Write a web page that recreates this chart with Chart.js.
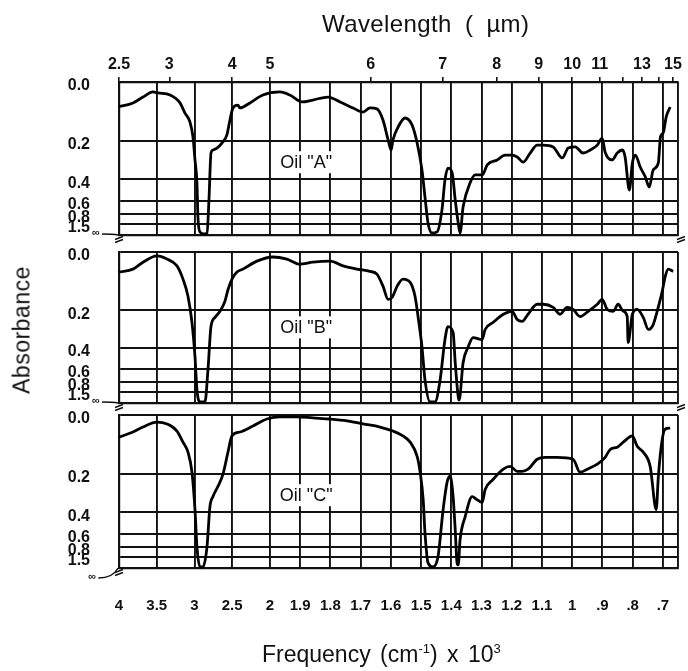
<!DOCTYPE html>
<html>
<head>
<meta charset="utf-8">
<title>Infrared absorbance of three oils</title>
<script src="https://cdn.jsdelivr.net/npm/chart.js@4.4.1/dist/chart.umd.min.js"></script>
<style>
  html, body { margin: 0; padding: 0; background: #fff; }
  #page { position: relative; width: 688px; height: 671px; overflow: hidden;
          font-family: "Liberation Sans", Arial, sans-serif; color: #111; }
  #page canvas { position: absolute; left: 0; }
  .caption { position: absolute; white-space: nowrap; font-size: 23px; line-height: 23px; }
  .caption sup { font-size: 13px; vertical-align: 9px; line-height: 0; }
</style>
</head>
<body>
<div id="page">
  <canvas id="panelA" width="688" height="248" style="top:0px"></canvas>
  <canvas id="panelB" width="688" height="175" style="top:240px"></canvas>
  <canvas id="panelC" width="688" height="266" style="top:405px"></canvas>
  <div class="caption" style="left:322px; top:12px; font-size:24px; word-spacing:6px; letter-spacing:0.4px;">Wavelength ( µm)</div>
  <div class="caption" style="left:22px; top:330px; transform:translate(-50%,-50%) rotate(-90deg); letter-spacing:0.5px;">Absorbance</div>
  <div class="caption" style="left:262px; top:643px; word-spacing:3px;">Frequency (cm<sup>-1</sup>) x 10<sup>3</sup></div>
</div>
<script>
// ---------------------------------------------------------------------------
// Spectra: frequency (cm-1) and absorbance for each oil
// ---------------------------------------------------------------------------
const FREQ_A = [4000, 3815, 3682, 3550, 3483, 3325, 3192, 3126, 3060, 3020,
  2993, 2967, 2954, 2927, 2874, 2834, 2808, 2781, 2755, 2702,
  2636, 2570, 2530, 2490, 2424, 2397, 2265, 2093, 1967, 1934,
  1894, 1858, 1808, 1768, 1725, 1692, 1669, 1646, 1626, 1609,
  1599, 1593, 1576, 1553, 1530, 1513, 1497, 1487, 1477, 1464,
  1447, 1431, 1421, 1411, 1397, 1387, 1377, 1371, 1361, 1338,
  1321, 1298, 1281, 1248, 1222, 1199, 1182, 1162, 1139, 1116,
  1096, 1063, 1033, 1013, 990, 964, 940, 917, 901, 891,
  868, 851, 834, 825, 811, 801, 791, 775, 758, 745,
  732, 715, 708, 699, 689, 676];
const ABS_A = [0.073, 0.061, 0.043, 0.028, 0.031, 0.037, 0.061, 0.094, 0.125, 0.183,
  0.288, 0.430, 0.936, 2.06, 2.5, 2.25, 0.593, 0.254, 0.240, 0.231,
  0.209, 0.175, 0.118, 0.077, 0.068, 0.077, 0.061, 0.037, 0.028, 0.037,
  0.058, 0.052, 0.043, 0.058, 0.077, 0.091, 0.077, 0.080, 0.118, 0.196,
  0.240, 0.196, 0.144, 0.111, 0.136, 0.209, 0.343, 0.561, 1.39, 2.25,
  2.06, 0.737, 0.407, 0.332, 0.361, 0.593, 1.39, 2.25, 0.688, 0.430,
  0.373, 0.373, 0.314, 0.288, 0.264, 0.264, 0.273, 0.299, 0.254, 0.218,
  0.218, 0.226, 0.278, 0.231, 0.226, 0.254, 0.240, 0.218, 0.188, 0.250,
  0.288, 0.254, 0.240, 0.273, 0.491, 0.304, 0.264, 0.326, 0.386, 0.463,
  0.343, 0.304, 0.183, 0.167, 0.107, 0.074];

const FREQ_B = [4000, 3815, 3682, 3497, 3364, 3232, 3152, 3086, 3033, 2993,
  2967, 2927, 2861, 2821, 2781, 2728, 2662, 2596, 2556, 2503,
  2437, 2358, 2172, 1990, 1944, 1901, 1858, 1801, 1758, 1712,
  1669, 1646, 1626, 1609, 1596, 1579, 1560, 1536, 1520, 1510,
  1497, 1487, 1470, 1454, 1437, 1421, 1411, 1394, 1387, 1377,
  1374, 1361, 1344, 1328, 1298, 1288, 1262, 1228, 1199, 1182,
  1166, 1146, 1116, 1096, 1063, 1040, 1017, 997, 974, 947,
  917, 901, 884, 864, 848, 831, 818, 815, 801, 785,
  765, 748, 732, 719, 702, 692, 682, 666];
const ABS_B = [0.059, 0.050, 0.029, 0.011, 0.020, 0.040, 0.082, 0.143, 0.256, 0.472,
  1.24, 2.5, 2.5, 0.609, 0.276, 0.232, 0.205, 0.163, 0.119, 0.082,
  0.059, 0.050, 0.026, 0.014, 0.020, 0.035, 0.029, 0.026, 0.040, 0.050,
  0.057, 0.066, 0.106, 0.155, 0.148, 0.106, 0.082, 0.093, 0.143, 0.228,
  0.393, 0.764, 2.5, 2.5, 0.764, 0.348, 0.276, 0.307, 0.530, 1.76,
  2.06, 0.530, 0.393, 0.336, 0.348, 0.291, 0.256, 0.218, 0.205, 0.242,
  0.251, 0.218, 0.175, 0.175, 0.188, 0.218, 0.188, 0.197, 0.228, 0.205,
  0.175, 0.155, 0.197, 0.205, 0.175, 0.205, 0.228, 0.366, 0.218, 0.197,
  0.232, 0.291, 0.266, 0.205, 0.124, 0.072, 0.050, 0.057];

const FREQ_C = [4000, 3815, 3682, 3497, 3364, 3232, 3152, 3086, 3033, 2993,
  2967, 2927, 2887, 2834, 2795, 2755, 2689, 2623, 2556, 2503,
  2397, 2225, 2040, 1967, 1911, 1858, 1801, 1745, 1692, 1636,
  1593, 1560, 1536, 1513, 1503, 1493, 1487, 1477, 1460, 1444,
  1427, 1414, 1404, 1394, 1387, 1381, 1377, 1371, 1354, 1331,
  1315, 1298, 1288, 1262, 1228, 1205, 1182, 1166, 1146, 1116,
  1089, 1050, 997, 974, 950, 917, 891, 874, 851, 831,
  801, 785, 765, 742, 722, 715, 702, 692, 676];
const ABS_C = [0.065, 0.049, 0.034, 0.020, 0.025, 0.046, 0.081, 0.115, 0.193, 0.383,
  0.81, 2.5, 2.5, 0.81, 0.365, 0.307, 0.256, 0.202, 0.115, 0.061,
  0.049, 0.031, 0.011, 0.005, 0.005, 0.008, 0.011, 0.016, 0.025, 0.034,
  0.046, 0.061, 0.081, 0.130, 0.193, 0.324, 0.592, 1.84, 2.5, 1.5,
  0.383, 0.237, 0.210, 0.307, 0.557, 1.84, 2.06, 0.686, 0.434, 0.307,
  0.324, 0.340, 0.271, 0.224, 0.180, 0.169, 0.189, 0.189, 0.180, 0.141,
  0.134, 0.134, 0.141, 0.193, 0.180, 0.160, 0.134, 0.105, 0.098, 0.081,
  0.061, 0.095, 0.115, 0.169, 0.383, 0.210, 0.071, 0.040, 0.037];

const OIL_NAMES = ['Oil "A"', 'Oil "B"', 'Oil "C"'];
const OIL_LABEL_FREQ = [1880, 1880, 1880];
const OIL_LABEL_ABS = [0.30, 0.28, 0.30];

// Tick values and their printed labels
const FREQ_TICKS = [4000, 3500, 3000, 2500, 2000, 1900, 1800, 1700, 1600, 1500,
  1400, 1300, 1200, 1100, 1000, 900, 800, 700, 650];
const FREQ_TICK_LABELS = ['4', '3.5', '3', '2.5', '2', '1.9', '1.8', '1.7', '1.6', '1.5',
  '1.4', '1.3', '1.2', '1.1', '1', '.9', '.8', '.7', ''];
const WAVE_TICKS = [2.5, 3, 4, 5, 6, 7, 8, 9, 10, 11, 12, 13, 14, 15];
const WAVE_TICK_LABELS = ['2.5', '3', '4', '5', '6', '7', '8', '9', '10', '11', '', '13', '', '15'];
const ABS_TICKS = [0, 0.2, 0.4, 0.6, 0.8, 1.5];
const ABS_TICK_LABELS = ['0.0', '0.2', '0.4', '0.6', '0.8', '1.5'];

// ---------------------------------------------------------------------------
// Chart-paper axes
// ---------------------------------------------------------------------------
// Frequency axis: 4000-2000 cm-1 is printed at a compressed scale.
const FREQ_KNOTS = [4000, 2000, 650];
const FREQ_KNOT_POS = [0, 0.27, 1];
// Absorbance axis: depth of each printed line below 0.0 (last entry = infinite absorbance).
const PAPER_DEPTH = [0, 0.385, 0.635, 0.775, 0.86, 0.927, 1];

function freqToDecimal(f) {
  if (f >= FREQ_KNOTS[1]) {
    return FREQ_KNOT_POS[0] + (FREQ_KNOTS[0] - f) / (FREQ_KNOTS[0] - FREQ_KNOTS[1]) * (FREQ_KNOT_POS[1] - FREQ_KNOT_POS[0]);
  }
  return FREQ_KNOT_POS[1] + (FREQ_KNOTS[1] - f) / (FREQ_KNOTS[1] - FREQ_KNOTS[2]) * (FREQ_KNOT_POS[2] - FREQ_KNOT_POS[1]);
}
function decimalToFreq(d) {
  if (d <= FREQ_KNOT_POS[1]) {
    return FREQ_KNOTS[0] - (d - FREQ_KNOT_POS[0]) / (FREQ_KNOT_POS[1] - FREQ_KNOT_POS[0]) * (FREQ_KNOTS[0] - FREQ_KNOTS[1]);
  }
  return FREQ_KNOTS[1] - (d - FREQ_KNOT_POS[1]) / (FREQ_KNOT_POS[2] - FREQ_KNOT_POS[1]) * (FREQ_KNOTS[1] - FREQ_KNOTS[2]);
}
// The paper is ruled linearly in transmittance between its printed absorbance lines.
const TRANS_KNOTS = ABS_TICKS.map(a => Math.pow(10, -a)).concat(0);
function absorbanceToDepth(a) {
  const t = Math.pow(10, -a);
  for (let i = 0; i < TRANS_KNOTS.length - 1; i++) {
    if (t >= TRANS_KNOTS[i + 1]) {
      return PAPER_DEPTH[i] + (TRANS_KNOTS[i] - t) / (TRANS_KNOTS[i] - TRANS_KNOTS[i + 1]) * (PAPER_DEPTH[i + 1] - PAPER_DEPTH[i]);
    }
  }
  return 1;
}
function depthToAbsorbance(d) {
  for (let i = 0; i < PAPER_DEPTH.length - 1; i++) {
    if (d <= PAPER_DEPTH[i + 1]) {
      const t = TRANS_KNOTS[i] - (d - PAPER_DEPTH[i]) / (PAPER_DEPTH[i + 1] - PAPER_DEPTH[i]) * (TRANS_KNOTS[i] - TRANS_KNOTS[i + 1]);
      return t > 0 ? -Math.log10(t) : Infinity;
    }
  }
  return Infinity;
}

class FrequencyScale extends Chart.Scale {
  determineDataLimits() { this.min = FREQ_KNOTS[2]; this.max = FREQ_KNOTS[0]; }
  buildTicks() { return FREQ_TICKS.map(value => ({ value })); }
  getLabelForValue(v) { return String(v); }
  getPixelForValue(f) { return this.getPixelForDecimal(freqToDecimal(f)); }
  getValueForPixel(p) { return decimalToFreq(this.getDecimalForPixel(p)); }
}
FrequencyScale.id = 'frequency';
FrequencyScale.defaults = {};

class WavelengthScale extends FrequencyScale {
  determineDataLimits() { this.min = 1e4 / FREQ_KNOTS[0]; this.max = 1e4 / FREQ_KNOTS[2]; }
  buildTicks() { return WAVE_TICKS.map(value => ({ value })); }
  getPixelForValue(um) { return super.getPixelForValue(1e4 / um); }
  getValueForPixel(p) { return 1e4 / super.getValueForPixel(p); }
}
WavelengthScale.id = 'wavelength';
WavelengthScale.defaults = {};

class AbsorbanceScale extends Chart.Scale {
  determineDataLimits() { this.min = 0; this.max = 3; }
  buildTicks() { return ABS_TICKS.map(value => ({ value })); }
  getLabelForValue(v) { return v.toFixed(2); }
  getPixelForValue(a) { return this.getPixelForDecimal(1 - absorbanceToDepth(a)); }
  getValueForPixel(p) { return depthToAbsorbance(1 - this.getDecimalForPixel(p)); }
}
AbsorbanceScale.id = 'absorbance';
AbsorbanceScale.defaults = {};

Chart.register(FrequencyScale, WavelengthScale, AbsorbanceScale);

// ---------------------------------------------------------------------------
// Drawing
// ---------------------------------------------------------------------------
const INK = '#111';
const FONT = '"Liberation Sans", Arial, sans-serif';
const PLOT_LEFT = 119;
const PLOT_RIGHT_PAD = 10;
Chart.defaults.font.family = FONT;
Chart.defaults.color = INK;

// Boxed oil name, the infinity marker and the axis-break ticks of each panel.
const panelDecor = {
  id: 'panelDecor',
  beforeDatasetsDraw(chart, args, opts) {
    const { ctx } = chart;
    const x = chart.scales.x.getPixelForValue(opts.labelFreq);
    const y = chart.scales.y.getPixelForValue(opts.labelAbs);
    ctx.save();
    ctx.font = '18px ' + FONT;
    const w = ctx.measureText(opts.label).width;
    ctx.fillStyle = '#fff';
    ctx.fillRect(x - w / 2 - 5, y - 11, w + 10, 22);
    ctx.fillStyle = INK;
    ctx.textAlign = 'center';
    ctx.textBaseline = 'middle';
    ctx.fillText(opts.label, x, y + 1);
    ctx.restore();
  },
  afterDraw(chart, args, opts) {
    const { ctx, chartArea: { left, right, bottom } } = chart;
    ctx.save();
    ctx.strokeStyle = INK;
    ctx.fillStyle = INK;
    ctx.lineWidth = 1.4;
    const breakAt = (x) => {
      ctx.beginPath();
      for (const dy of [3, 6]) {
        ctx.moveTo(x - 4, bottom + dy + 1.5);
        ctx.lineTo(x + 4, bottom + dy - 1.5);
      }
      ctx.stroke();
    };
    breakAt(left);
    if (opts.rightBreak) breakAt(right + 3);
    const drop = opts.infinityDrop;
    ctx.font = 'bold 11px ' + FONT;
    ctx.textAlign = 'left';
    ctx.textBaseline = 'middle';
    ctx.fillText('\u221e', left - 27 - drop / 3, bottom - 2 + drop);
    ctx.beginPath();
    ctx.moveTo(left - 17 - drop / 3, bottom - 1 + drop);
    ctx.quadraticCurveTo(left - 6, bottom - 1 + drop, left - 1, bottom);
    ctx.stroke();
    ctx.restore();
  }
};

function buildPanel(canvasId, freq, abs, idx, layout) {
  const points = freq.map((f, i) => ({ x: f, y: abs[i] }));
  const tickFont = { size: 16, weight: 'bold' };
  const scales = {
    x: {
      type: 'frequency', axis: 'x', position: 'bottom',
      grid: { color: INK, lineWidth: 1.9, drawTicks: false },
      border: { color: INK, width: 2.2 },
      ticks: {
        display: layout.showFrequency, autoSkip: false, maxRotation: 0, minRotation: 0,
        padding: 29, font: { size: 15, weight: 'bold' }, color: INK,
        callback: (v, i) => FREQ_TICK_LABELS[i]
      },
      afterFit: s => { s.height = layout.bottomAxis; s.paddingLeft = 0; s.paddingRight = 0; }
    },
    y: {
      type: 'absorbance', axis: 'y', position: 'left',
      grid: { color: INK, lineWidth: 1.9, drawTicks: false },
      border: { color: INK, width: 2.2 },
      ticks: {
        autoSkip: false, padding: 29, labelOffset: 4, font: tickFont, color: INK,
        callback: (v, i) => ABS_TICK_LABELS[i]
      },
      afterFit: s => { s.width = PLOT_LEFT; s.paddingTop = 0; s.paddingBottom = 0; }
    }
  };
  if (layout.showWavelength) {
    scales.xTop = {
      type: 'wavelength', axis: 'x', position: 'top',
      grid: { color: INK, lineWidth: 1.6, drawOnChartArea: false, drawTicks: true, tickLength: 5 },
      border: { color: INK, width: 2.2 },
      ticks: {
        autoSkip: false, maxRotation: 0, minRotation: 0, padding: 3, font: tickFont, color: INK,
        callback: (v, i) => WAVE_TICK_LABELS[i]
      },
      afterFit: s => { s.height = layout.topAxis; s.paddingLeft = 0; s.paddingRight = 0; }
    };
  }
  return new Chart(document.getElementById(canvasId), {
    type: 'line',
    data: {
      datasets: [{
        label: OIL_NAMES[idx],
        data: points,
        borderColor: '#000',
        borderWidth: 2.8,
        pointRadius: 0,
        fill: false,
        cubicInterpolationMode: 'monotone',
        xAxisID: 'x',
        yAxisID: 'y'
      }]
    },
    options: {
      responsive: false,
      animation: false,
      devicePixelRatio: 1,
      layout: { padding: { left: 0, right: PLOT_RIGHT_PAD, top: layout.padTop, bottom: layout.padBottom } },
      plugins: {
        legend: { display: false },
        tooltip: { enabled: false },
        panelDecor: {
          label: OIL_NAMES[idx],
          labelFreq: OIL_LABEL_FREQ[idx],
          labelAbs: OIL_LABEL_ABS[idx],
          infinityDrop: layout.infinityDrop,
          rightBreak: layout.rightBreak
        }
      },
      scales
    },
    plugins: [panelDecor]
  });
}

buildPanel('panelA', FREQ_A, ABS_A, 0, {
  showWavelength: true, showFrequency: false, topAxis: 82, bottomAxis: 0,
  padTop: 0, padBottom: 13, infinityDrop: 0, rightBreak: true
});
buildPanel('panelB', FREQ_B, ABS_B, 1, {
  showWavelength: false, showFrequency: false, topAxis: 0, bottomAxis: 0,
  padTop: 12, padBottom: 12, infinityDrop: 0, rightBreak: true
});
buildPanel('panelC', FREQ_C, ABS_C, 2, {
  showWavelength: false, showFrequency: true, topAxis: 0, bottomAxis: 103,
  padTop: 10, padBottom: 0, infinityDrop: 11, rightBreak: false
});
</script>
</body>
</html>
